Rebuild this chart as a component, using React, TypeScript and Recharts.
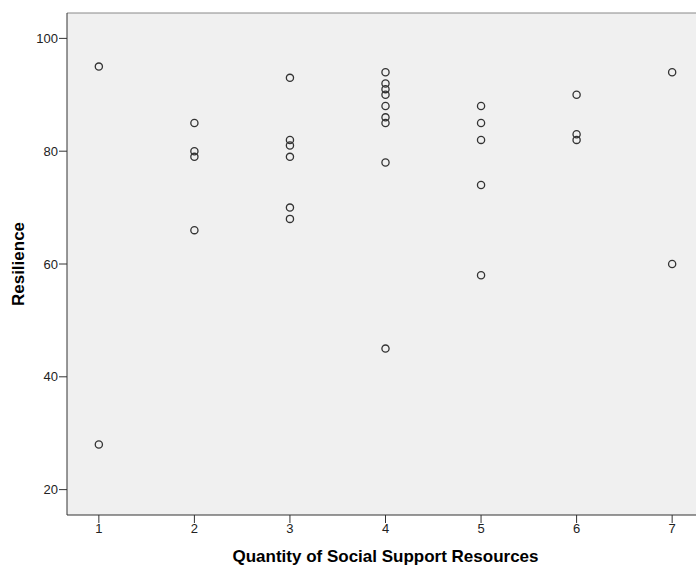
import { ScatterChart, Scatter, XAxis, YAxis, CartesianGrid, ReferenceLine } from 'recharts';

// x categories and the resilience scores read at each of them
const supportLevels = [1, 2, 3, 4, 5, 6, 7];
const resilienceByLevel = [
  [95, 28],
  [85, 80, 79, 66],
  [93, 82, 81, 79, 70, 68],
  [94, 92, 91, 90, 88, 86, 85, 78, 45],
  [88, 85, 82, 74, 58],
  [90, 83, 82],
  [94, 60],
];
const yTicks = [20, 40, 60, 80, 100];

const points = supportLevels.flatMap((level, i) =>
  resilienceByLevel[i].map((score) => ({ level, score }))
);

const font = '"Liberation Sans", Arial, sans-serif';

const OpenCircle = (props: any) => (
  <circle cx={props.cx} cy={props.cy} r={3.6} fill="none" stroke="#333" strokeWidth={1.3} />
);

const App = () => {
  return (
    <div style={{ position: 'absolute', left: 0, top: 0, width: 696, height: 567, overflow: 'hidden', background: '#fff' }}>
      <ScatterChart width={704} height={567} margin={{ top: 13, right: 0, bottom: 0, left: 0 }}>
        <CartesianGrid horizontal={false} vertical={false} fill="#f0f0f0" />
        <ReferenceLine y={104.5} stroke="#888" ifOverflow="visible" />
        <XAxis
          type="number"
          dataKey="level"
          domain={[2 / 3, 22 / 3]}
          ticks={supportLevels}
          allowDataOverflow
          height={52}
          tickSize={8}
          tickMargin={1}
          stroke="#333"
          tick={{ fill: '#222', fontSize: 13, fontFamily: font }}
          label={{
            value: 'Quantity of Social Support Resources',
            position: 'insideBottom',
            offset: 5,
            style: { fontFamily: font, fontSize: 17, fontWeight: 'bold', fill: '#000' },
          }}
        />
        <YAxis
          type="number"
          dataKey="score"
          domain={[15.5, 104.5]}
          ticks={yTicks}
          allowDataOverflow
          width={67}
          tickSize={8}
          tickMargin={1}
          stroke="#333"
          tick={{ fill: '#222', fontSize: 13, fontFamily: font }}
          label={{
            value: 'Resilience',
            angle: -90,
            position: 'insideLeft',
            offset: 18,
            style: { textAnchor: 'middle', fontFamily: font, fontSize: 17, fontWeight: 'bold', fill: '#000' },
          }}
        />
        <Scatter data={points} shape={OpenCircle} isAnimationActive={false} />
      </ScatterChart>
    </div>
  );
};

export default App;
